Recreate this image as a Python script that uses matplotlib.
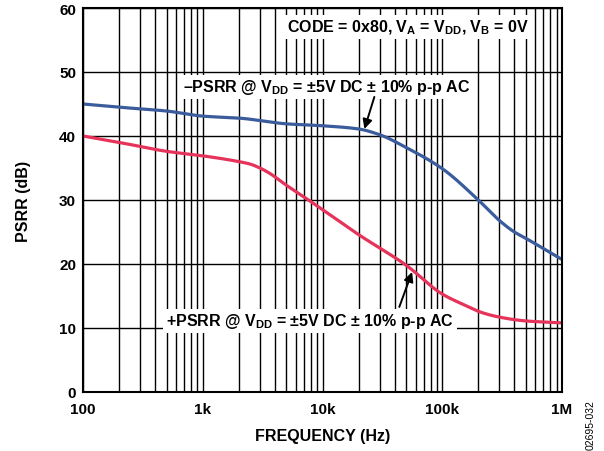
import matplotlib
matplotlib.use("Agg")
import matplotlib.pyplot as plt
import numpy as np

plt.rcParams['font.family'] = ['Liberation Sans', 'DejaVu Sans']
plt.rcParams['font.weight'] = 'bold'
plt.rcParams['mathtext.fontset'] = 'custom'
plt.rcParams['mathtext.rm'] = 'Liberation Sans:bold'
plt.rcParams['mathtext.it'] = 'Liberation Sans:bold'
plt.rcParams['mathtext.bf'] = 'Liberation Sans:bold'
plt.rcParams['mathtext.default'] = 'rm'

# Data
freq_neg = [100, 200, 500, 1e3, 2e3, 5e3, 1e4, 2e4, 3e4, 5e4, 1e5, 2e5, 3e5, 4e5, 5e5, 1e6]
psrr_neg = [45.0, 44.5, 43.9, 43.1, 42.8, 41.9, 41.6, 41.1, 40.2, 38.2, 34.9, 30.0, 26.8, 25.0, 24.0, 20.7]
freq_pos = [100, 200, 500, 1e3, 2e3, 2.5e3, 3e3, 3.6e3, 5e3, 7.5e3, 1e4, 2e4, 5e4, 1e5, 1.66e5, 2e5, 3e5, 5e5, 1e6]
psrr_pos = [40.0, 39.0, 37.6, 36.9, 36.0, 35.6, 35.0, 34.2, 32.3, 30.1, 28.5, 24.6, 19.8, 15.3, 13.3, 12.6, 11.7, 11.1, 10.8]
xticks = [100, 1e3, 1e4, 1e5, 1e6]
xticklabels = ['100', '1k', '10k', '100k', '1M']
yticks = [0, 10, 20, 30, 40, 50, 60]

fig = plt.figure(figsize=(6.04, 4.52), dpi=100)
ax = fig.add_axes([83/604, 59/452, 479/604, 384/452])


def pchip(f, v, n=500):
    """Monotone cubic (Fritsch-Carlson) interpolation in log-frequency."""
    x = np.log10(np.asarray(f, float))
    y = np.asarray(v, float)
    h = np.diff(x)
    d = np.diff(y) / h
    m = np.zeros_like(y)
    m[0], m[-1] = d[0], d[-1]
    for i in range(1, len(y) - 1):
        if d[i-1] * d[i] <= 0:
            m[i] = 0
        else:
            w1 = 2*h[i] + h[i-1]
            w2 = h[i] + 2*h[i-1]
            m[i] = (w1 + w2) / (w1/d[i-1] + w2/d[i])
    xs = np.linspace(x[0], x[-1], n)
    idx = np.clip(np.searchsorted(x, xs) - 1, 0, len(h) - 1)
    t = (xs - x[idx]) / h[idx]
    h00 = 2*t**3 - 3*t**2 + 1
    h10 = t**3 - 2*t**2 + t
    h01 = -2*t**3 + 3*t**2
    h11 = t**3 - t**2
    ys = h00*y[idx] + h10*h[idx]*m[idx] + h01*y[idx+1] + h11*h[idx]*m[idx+1]
    return 10**xs, ys

fx, fy = pchip(freq_neg, psrr_neg)
ax.plot(fx, fy, color='#3B5C9C', lw=2.3, zorder=4, solid_capstyle='butt')
fx, fy = pchip(freq_pos, psrr_pos)
ax.plot(fx, fy, color='#E5335A', lw=2.3, zorder=4, solid_capstyle='butt')

ax.set_xscale('log')
ax.set_xlim(100, 1e6)
ax.set_ylim(0, 60)
ax.set_xticks(xticks)
ax.set_xticklabels(xticklabels)
ax.set_yticks(yticks)
ax.grid(True, which='both', color='black', lw=1.0, zorder=1)
ax.set_axisbelow(True)
ax.tick_params(which='both', length=0, labelsize=11)
ax.tick_params(axis='y', pad=5)
ax.tick_params(axis='x', pad=7)
for lab in ax.get_xticklabels() + ax.get_yticklabels():
    lab.set_fontweight('bold')
for s in ax.spines.values():
    s.set_linewidth(1.5)
    s.set_zorder(5)

ax.set_xlabel('FREQUENCY (Hz)', fontsize=11.5, fontweight='bold', labelpad=9)
ax.set_ylabel('PSRR (dB)', fontsize=11.5, fontweight='bold', labelpad=20)

bbox = dict(facecolor='white', edgecolor='none', pad=2)
ax.text(5.1e3, 57.0, r'CODE = 0x80, $V_A$ = $V_{DD}$, $V_B$ = 0V', fontsize=11.5,
        fontweight='bold', va='center', ha='left', bbox=bbox, zorder=6)
ax.text(680, 47.7, r'–PSRR @ $V_{DD}$ = ±5V DC ± 10% p-p AC', fontsize=11.5,
        fontweight='bold', va='center', ha='left', bbox=bbox, zorder=6)
ax.text(492, 11.1, r'+PSRR @ $V_{DD}$ = ±5V DC ± 10% p-p AC', fontsize=11.5,
        fontweight='bold', va='center', ha='left', bbox=bbox, zorder=6)

ap = dict(arrowstyle='-|>', color='black', lw=1.4, mutation_scale=14, shrinkA=0, shrinkB=0)
ax.annotate('', xy=(22.4e3, 41.1), xytext=(27.1e3, 46.1), arrowprops=ap, zorder=7)
ax.annotate('', xy=(56e3, 18.75), xytext=(43.8e3, 13.3), arrowprops=ap, zorder=7)

fig.text(591/604, 1 - 425/452, '02695-032', rotation=90, fontsize=7.5, fontweight='normal',
         ha='center', va='center')

fig.savefig('out.png', dpi=100)
